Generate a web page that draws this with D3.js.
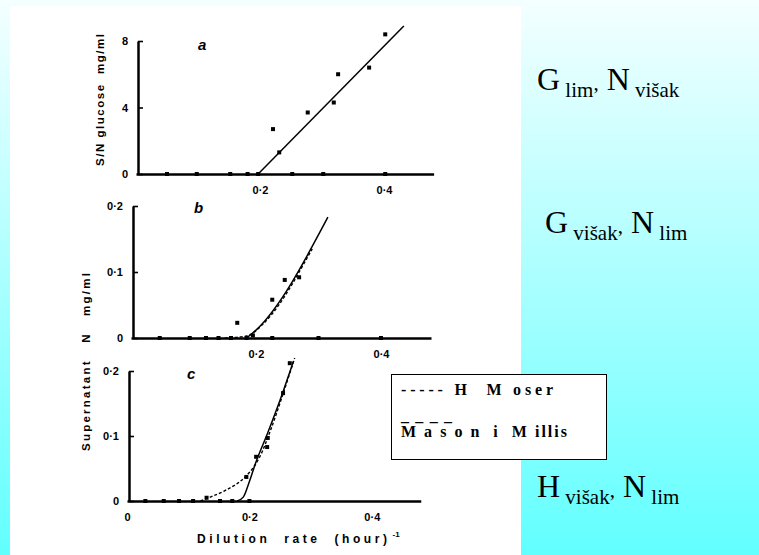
<!DOCTYPE html>
<html>
<head>
<meta charset="utf-8">
<script src="https://cdn.jsdelivr.net/npm/d3@7"></script>
<style>
  body { margin: 0; }
  svg { display: block; }
</style>
</head>
<body>
<div id="chart"></div>
<script>
// Panel a : S/N glucose vs dilution rate
const dilutionA = [0.05, 0.098, 0.152, 0.18, 0.197, 0.221, 0.231, 0.252, 0.277, 0.302, 0.319, 0.326, 0.376, 0.402, 0.402];
const glucoseA  = [0, 0, 0, 0, 0, 2.7, 1.3, 0, 3.7, 0, 4.3, 6.0, 6.4, 8.4, 0];
const fitDilA = [0.197, 0.432];
const fitValA = [0, 8.9];

// Panel b : supernatant N (glucose excess)
const dilutionB = [0.046, 0.094, 0.12, 0.14, 0.16, 0.17, 0.185, 0.195, 0.226, 0.226, 0.246, 0.269, 0.3, 0.4];
const nitrogenB = [0, 0, 0, 0, 0, 0.023, 0, 0.004, 0, 0.058, 0.088, 0.092, 0, 0];
const solidDilB = [0.185, 0.2, 0.315];
const solidValB = [0, 0.012, 0.183];
const dashDilB  = [0.15, 0.185, 0.21, 0.238, 0.26, 0.275, 0.29];
const dashValB  = [0, 0.003, 0.02, 0.052, 0.085, 0.11, 0.135];

// Panel c : supernatant N (H excess)
const dilutionC = [0.03, 0.06, 0.085, 0.108, 0.13, 0.152, 0.172, 0.195, 0.2, 0.211, 0.229, 0.23, 0.255, 0.266];
const nitrogenC = [0, 0, 0, 0, 0.005, 0, 0, 0.037, 0, 0.068, 0.083, 0.097, 0.166, 0.212];
const solidDilC = [0.18, 0.19, 0.2, 0.21, 0.23, 0.25, 0.272];
const solidValC = [0, 0.006, 0.03, 0.058, 0.105, 0.155, 0.215];
const dashDilC  = [0.12, 0.136, 0.16, 0.193, 0.209, 0.217, 0.235, 0.255, 0.274];
const dashValC  = [0, 0.006, 0.016, 0.037, 0.055, 0.068, 0.11, 0.165, 0.22];

const xTicksAB = [0.2, 0.4];
const xTicksC = [0, 0.2, 0.4];
const yTicksA = [0, 4, 8];
const yTicksN = [0, 0.1, 0.2];

const legendLabels = ["----- H  M oser", "_ _ _ _", "M a s o n  i  M illis"];

const width = 759, height = 555;

const svg = d3.select("#chart").append("svg")
    .attr("width", width)
    .attr("height", height);

// background gradient (slide)
const grad = svg.append("defs").append("linearGradient")
    .attr("id", "bg").attr("x1", 0).attr("y1", 0).attr("x2", 0).attr("y2", 1);
grad.append("stop").attr("offset", "0%").attr("stop-color", "#f4ffff");
grad.append("stop").attr("offset", "100%").attr("stop-color", "#62ffff");

svg.append("rect").attr("width", width).attr("height", height).attr("fill", "url(#bg)");
svg.append("rect").attr("x", 10).attr("y", 6).attr("width", 511).attr("height", 549).attr("fill", "#fff");

const fmt = d => d === 0 ? "0" : String(d).replace(".", "·");
const tickFont = "'Liberation Sans', Arial, sans-serif";

function panel(cfg) {
    const x = d3.scaleLinear().domain([0, 0.48]).range([cfg.x0, cfg.x0 + 0.48 * cfg.pxPerUnit]);
    const y = d3.scaleLinear().domain(cfg.yDomain).range(cfg.yRange);
    const g = svg.append("g");

    const yAxis = g.append("g")
        .attr("transform", `translate(${cfg.x0 + 2},0)`)
        .call(d3.axisLeft(y).tickValues(cfg.yTicks).tickFormat(fmt)
            .tickSizeInner(-5).tickSizeOuter(0).tickPadding(10));
    const xAxis = g.append("g")
        .attr("transform", `translate(0,${cfg.yRange[0]})`)
        .call(d3.axisBottom(x).tickValues(cfg.xTicks).tickFormat(fmt)
            .tickSizeInner(0).tickSizeOuter(0).tickPadding(12));

    [yAxis, xAxis].forEach(a => {
        a.select(".domain").attr("stroke", "#000").attr("stroke-width", 2.5);
        a.selectAll(".tick line").attr("stroke", "#000").attr("stroke-width", 1.6);
        a.selectAll("text").attr("fill", "#000")
            .attr("font-family", tickFont).attr("font-weight", "bold").attr("font-size", 11);
    });

    const line = d3.line().x(d => x(d[0])).y(d => y(d[1])).curve(d3.curveMonotoneX);

    if (cfg.dash) {
        g.append("path").datum(d3.zip(cfg.dash[0], cfg.dash[1]))
            .attr("d", line).attr("fill", "none")
            .attr("stroke", "#000").attr("stroke-width", 1.4).attr("stroke-dasharray", "3,2");
    }
    g.append("path").datum(d3.zip(cfg.solid[0], cfg.solid[1]))
        .attr("d", line).attr("fill", "none")
        .attr("stroke", "#000").attr("stroke-width", 1.5);

    g.append("g").selectAll("rect")
        .data(d3.zip(cfg.px, cfg.py))
        .join("rect")
        .attr("x", d => x(d[0]) - 2)
        .attr("y", d => y(d[1]) - 2)
        .attr("width", 4).attr("height", 4)
        .attr("fill", "#000");

    g.append("text")
        .attr("x", cfg.letter[0]).attr("y", cfg.letter[1])
        .attr("font-family", tickFont).attr("font-style", "italic").attr("font-weight", "bold")
        .attr("font-size", 15).attr("fill", "#000")
        .text(cfg.name);
}

panel({
    name: "a", letter: [198, 50],
    x0: 136, pxPerUnit: 620, yDomain: [0, 8], yRange: [174, 41],
    yTicks: yTicksA, xTicks: xTicksAB,
    px: dilutionA, py: glucoseA, solid: [fitDilA, fitValA]
});
panel({
    name: "b", letter: [194, 213],
    x0: 131, pxPerUnit: 625, yDomain: [0, 0.2], yRange: [338, 206],
    yTicks: yTicksN, xTicks: xTicksAB,
    px: dilutionB, py: nitrogenB, solid: [solidDilB, solidValB], dash: [dashDilB, dashValB]
});
panel({
    name: "c", letter: [187, 379],
    x0: 127, pxPerUnit: 612, yDomain: [0, 0.2], yRange: [501, 371],
    yTicks: yTicksN, xTicks: xTicksC,
    px: dilutionC, py: nitrogenC, solid: [solidDilC, solidValC], dash: [dashDilC, dashValC]
});

// axis titles
svg.append("text")
    .attr("transform", "translate(104,100) rotate(-90)")
    .attr("text-anchor", "middle")
    .attr("textLength", 132).attr("lengthAdjust", "spacing")
    .attr("font-family", tickFont).attr("font-weight", "bold").attr("font-size", 11.5)
    .style("white-space", "pre")
    .text("S/N glucose  mg/ml");

svg.append("text")
    .attr("transform", "translate(90,362) rotate(-90)")
    .attr("text-anchor", "middle")
    .attr("textLength", 178).attr("lengthAdjust", "spacing")
    .attr("font-family", tickFont).attr("font-weight", "bold").attr("font-size", 11.5)
    .style("white-space", "pre")
    .text("Supernatant   N   mg/ml");

const xt = svg.append("text")
    .attr("x", 197).attr("y", 543)
    .attr("font-family", tickFont).attr("font-weight", "bold").attr("font-size", 12)
    .style("white-space", "pre");
xt.append("tspan").attr("textLength", 190).attr("lengthAdjust", "spacing").text("Dilution  rate  (hour)");
xt.append("tspan").attr("dy", -6).attr("dx", 2).attr("font-size", 8).text("-1");

// legend box
svg.append("rect")
    .attr("x", 391.5).attr("y", 374.5).attr("width", 215).attr("height", 85)
    .attr("fill", "#fff").attr("stroke", "#000").attr("stroke-width", 1);

const legendY = [395, 421, 437];
const legendW = [152, 51, 166];
svg.append("g").selectAll("text")
    .data(legendLabels)
    .join("text")
    .attr("x", 401)
    .attr("y", (d, i) => legendY[i])
    .attr("textLength", (d, i) => legendW[i])
    .attr("lengthAdjust", "spacing")
    .attr("font-family", "'Liberation Serif', 'Times New Roman', serif")
    .attr("font-weight", "bold").attr("font-size", 16)
    .style("white-space", "pre")
    .text(d => d);

// condition labels on the right
const condLabels = [
    { y: 90, parts: [["G", false], ["lim", true], [",", "c"], [" N", false], ["višak", true]] },
    { y: 233, x: 545, parts: [["G", false], ["višak", true], [",", "c"], [" N", false], ["lim", true]] },
    { y: 497, parts: [["H", false], ["višak", true], [",", "c"], [" N", false], ["lim", true]] }
];
condLabels.forEach(c => {
    const t = svg.append("text")
        .attr("x", c.x || 537).attr("y", c.y)
        .attr("font-family", "'Liberation Serif', 'Times New Roman', serif")
        .attr("fill", "#000")
        .style("white-space", "pre");
    let sub = false;
    c.parts.forEach(([s, kind]) => {
        const ts = t.append("tspan").text(kind === true ? " " + s : s);
        if (kind === true) {
            ts.attr("font-size", 21).attr("dy", sub ? 0 : 7);
            sub = true;
        } else if (kind === "c") {
            ts.attr("font-size", 21).attr("dy", -7);
            sub = false;
        } else {
            ts.attr("font-size", 32).attr("dy", sub ? -7 : 0);
            sub = false;
        }
    });
});
</script>
</body>
</html>
